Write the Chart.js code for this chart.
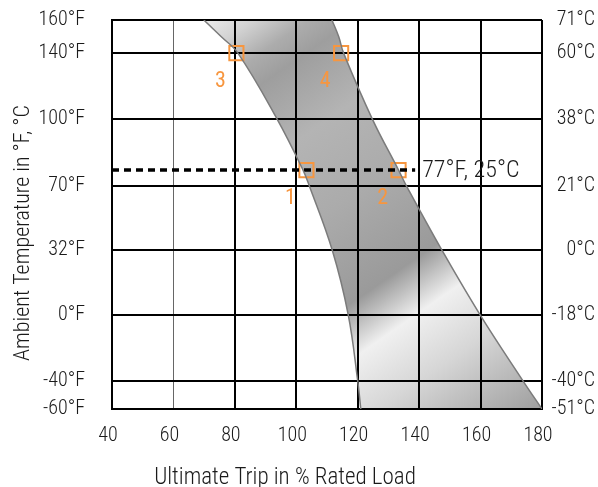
<!DOCTYPE html>
<html><head><meta charset="utf-8">
<script src="https://cdn.jsdelivr.net/npm/chart.js@4.4.1/dist/chart.umd.min.js"></script>
<style>html,body{margin:0;padding:0;background:#fff;overflow:hidden}#wrap{width:598px;height:487px;position:relative}</style>
</head><body><div id="wrap"><canvas id="c" width="598" height="487"></canvas></div>
<script>
// ---- data ----
const tempTicksF = [-60, -40, 0, 32, 70, 100, 140, 160];
const tickLabelsF = ['-60°F', '-40°F', '0°F', '32°F', '70°F', '100°F', '140°F', '160°F'];
const tickLabelsC = ['-51°C', '-40°C', '-18°C', '0°C', '21°C', '38°C', '60°C', '71°C'];
const loadTicks = [40, 60, 80, 100, 120, 140, 160, 180];
const lowerEdgeLoad = [69.9, 75.5, 81.0, 93.8, 102.2, 104.2, 111.7, 116.9, 120.0, 121.0];
const lowerEdgeTemp = [160, 150, 140, 100, 77, 70, 32, 0, -40, -60];
const upperEdgeLoad = [111.6, 113.8, 115.4, 124.8, 133.3, 135.8, 147.4, 159.8, 173.8, 180];
const upperEdgeTemp = [160, 150, 140, 100, 77, 70, 32, 0, -40, -60];
const refTemp = 77;
const refLoad = [40, 138.7];
const refLabel = '77°F, 25°C';
const pointLoad = [103.3, 133.3, 80.5, 114.6];
const pointTemp = [77, 77, 140, 140];
const pointLabels = ['1', '2', '3', '4'];
const xTitle = 'Ultimate Trip in % Rated Load';
const yTitle = 'Ambient Temperature in °F, °C';
// axis layout: relative row position of each temperature tick (non-uniform chart scale)
const tickRow = [0, 0.85, 2.85, 4.8, 6.75, 8.75, 10.75, 11.75];

function row(t) {
  for (let i = 0; i < tempTicksF.length - 1; i++) {
    const a = tempTicksF[i], b = tempTicksF[i + 1];
    if (t >= a && t <= b) return tickRow[i] + (t - a) / (b - a) * (tickRow[i + 1] - tickRow[i]);
  }
  return t < tempTicksF[0] ? tickRow[0] : tickRow[tickRow.length - 1];
}

const FAM = '"Roboto Condensed", "Liberation Sans Narrow", "DejaVu Sans Condensed", sans-serif';
const W = 300;
const ORANGE = '#F7963F';
const TXT = '#1a1a1a';

const bandPlugin = {
  id: 'band',
  beforeDatasetsDraw(chart) {
    const a = chart.getDatasetMeta(0).data, b = chart.getDatasetMeta(1).data;
    const ctx = chart.ctx, area = chart.chartArea;
    ctx.save();
    ctx.beginPath(); ctx.rect(area.left, area.top, area.width, area.height); ctx.clip();
    ctx.beginPath();
    ctx.moveTo(a[0].x, a[0].y);
    for (let i = 1; i < a.length; i++) ctx.bezierCurveTo(a[i - 1].cp2x, a[i - 1].cp2y, a[i].cp1x, a[i].cp1y, a[i].x, a[i].y);
    ctx.lineTo(b[b.length - 1].x, b[b.length - 1].y);
    for (let i = b.length - 2; i >= 0; i--) ctx.bezierCurveTo(b[i + 1].cp1x, b[i + 1].cp1y, b[i].cp2x, b[i].cp2y, b[i].x, b[i].y);
    ctx.closePath();
    const g = ctx.createLinearGradient(area.left + 0.2056 * area.width, area.top,
      area.left + 0.8876 * area.width, area.top + 1.0856 * area.height);
    g.addColorStop(0, '#eeeeee');
    g.addColorStop(0.06, '#d2d2d2');
    g.addColorStop(0.12, '#acacac');
    g.addColorStop(0.17, '#9e9e9e');
    g.addColorStop(0.30, '#b4b4b4');
    g.addColorStop(0.45, '#ababab');
    g.addColorStop(0.62, '#9a9a9a');
    g.addColorStop(0.71, '#f0f0f0');
    g.addColorStop(0.82, '#d6d6d6');
    g.addColorStop(1, '#9e9e9e');
    ctx.fillStyle = g;
    ctx.fill();
    ctx.restore();
    chart.scales.x.drawGrid(area);
    chart.scales.y.drawGrid(area);
  }
};

const textPlugin = {
  id: 'texts',
  afterDraw(chart) {
    const ctx = chart.ctx;
    const pts = chart.getDatasetMeta(3).data;
    ctx.save();
    ctx.fillStyle = ORANGE;
    ctx.font = '400 22px ' + FAM;
    ctx.textAlign = 'center'; ctx.textBaseline = 'middle';
    pts.forEach((p, i) => ctx.fillText(pointLabels[i], p.x - 16, p.y + 28));
    const xs = chart.scales.x, ys = chart.scales.y;
    ctx.fillStyle = TXT;
    ctx.font = W + ' 24px ' + FAM;
    ctx.textAlign = 'left';
    ctx.fillText(refLabel, xs.getPixelForValue(refLoad[1]) + 7, ys.getPixelForValue(row(refTemp)) + 1);
    ctx.font = W + ' 23px ' + FAM;
    ctx.textAlign = 'center';
    ctx.fillText(xTitle, 285, 478);
    ctx.font = W + ' 22px ' + FAM;
    ctx.translate(23, 233);
    ctx.rotate(-Math.PI / 2);
    ctx.fillText(yTitle, 0, 0);
    ctx.restore();
  }
};

const rowTicks = scale => { scale.ticks = tickRow.map(v => ({ value: v })); };
const noVPad = s => { s.paddingTop = 0; s.paddingBottom = 0; };
const tickFont = { size: 20, family: FAM, weight: W };

new Chart(document.getElementById('c'), {
  type: 'scatter',
  data: {
    datasets: [
      { data: lowerEdgeLoad.map((x, i) => ({ x, y: row(lowerEdgeTemp[i]) })), showLine: true, tension: 0.4,
        borderColor: '#7b7b7b', borderWidth: 1.5, pointRadius: 0, fill: false },
      { data: upperEdgeLoad.map((x, i) => ({ x, y: row(upperEdgeTemp[i]) })), showLine: true, tension: 0.4,
        borderColor: '#7b7b7b', borderWidth: 1.5, pointRadius: 0, fill: false },
      { data: refLoad.map(x => ({ x, y: row(refTemp) })), showLine: true, borderColor: '#000', borderWidth: 3.5,
        borderDash: [7, 5], pointRadius: 0, fill: false },
      { data: pointLoad.map((x, i) => ({ x, y: row(pointTemp[i]) })), showLine: false, pointStyle: 'rect',
        pointRadius: 10, pointHoverRadius: 10, borderColor: ORANGE, borderWidth: 2, backgroundColor: 'rgba(0,0,0,0)' }
    ]
  },
  options: {
    responsive: false, animation: false, devicePixelRatio: 1,
    layout: { padding: { top: 20, right: 3, left: 0, bottom: 0 } },
    plugins: { legend: { display: false }, tooltip: { enabled: false } },
    events: [],
    scales: {
      x: {
        type: 'linear', min: 40, max: 180,
        afterBuildTicks: s => { s.ticks = loadTicks.map(v => ({ value: v })); },
        afterFit: s => { s.height = 78; s.paddingLeft = 0; s.paddingRight = 0; },
        ticks: { font: tickFont, color: TXT, padding: 15, labelOffset: -4 },
        grid: { drawTicks: false, color: c => (c.tick && c.tick.value === 60) ? '#666' : '#000',
          lineWidth: c => (c.tick && c.tick.value === 60) ? 1 : 2 },
        border: { display: true, color: '#000', width: 2 }
      },
      y: {
        type: 'linear', position: 'left', min: 0, max: 11.75,
        afterBuildTicks: rowTicks,
        afterFit: s => { s.width = 112; noVPad(s); },
        ticks: { font: tickFont, color: TXT, padding: 27,
          callback: (v, i) => tickLabelsF[i] },
        grid: { drawTicks: false, color: '#000', lineWidth: 2 },
        border: { display: true, color: '#000', width: 2 }
      },
      y2: {
        type: 'linear', position: 'right', min: 0, max: 11.75,
        afterBuildTicks: rowTicks,
        afterFit: s => { s.width = 53; noVPad(s); },
        ticks: { font: tickFont, color: TXT, crossAlign: 'far',
          callback: (v, i) => tickLabelsC[i] },
        grid: { display: false, drawTicks: false },
        border: { display: false }
      }
    }
  },
  plugins: [bandPlugin, textPlugin]
});
</script></body></html>
